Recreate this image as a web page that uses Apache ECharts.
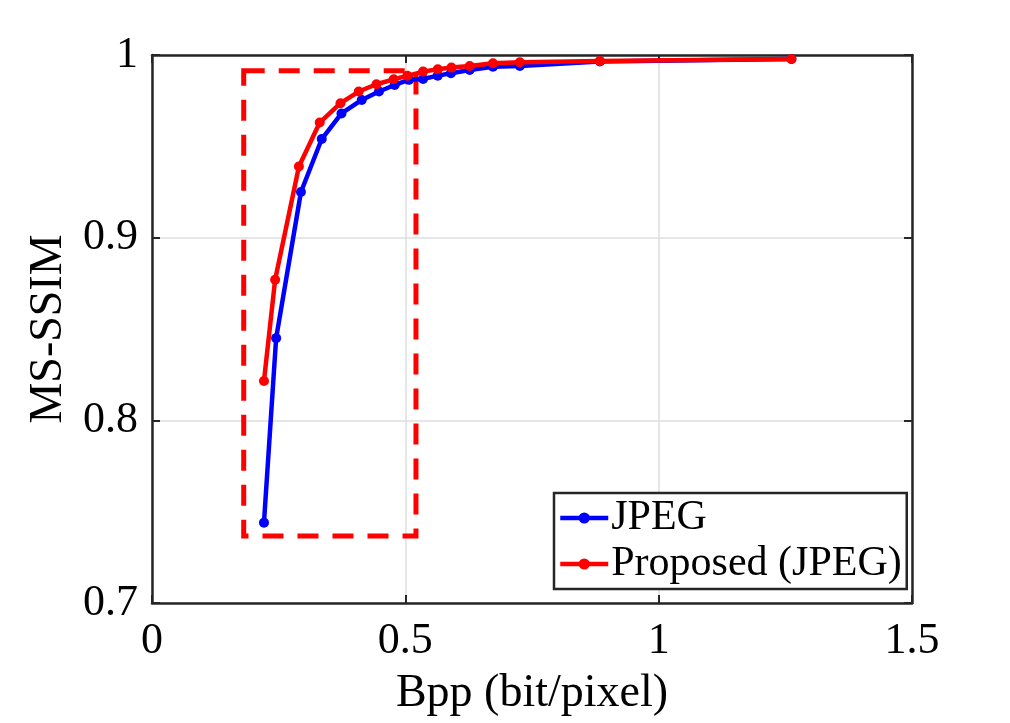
<!DOCTYPE html>
<html>
<head>
<meta charset="utf-8">
<script src="https://cdn.jsdelivr.net/npm/echarts@6/dist/echarts.min.js"></script>
<style>html,body{margin:0;padding:0;background:#fff}#c{width:1010px;height:723px}</style>
</head>
<body>
<div id="c"></div>
<script>
// Data
const jpegBpp   = [0.221, 0.245, 0.294, 0.335, 0.374, 0.414, 0.448, 0.479, 0.507, 0.535, 0.564, 0.590, 0.627, 0.673, 0.726, 0.884, 1.262];
const jpegSsim  = [0.744, 0.845, 0.925, 0.954, 0.968, 0.9754, 0.980, 0.9836, 0.9864, 0.9869, 0.9887, 0.9900, 0.9918, 0.9936, 0.9940, 0.9965, 0.9978];
const propBpp   = [0.221, 0.243, 0.290, 0.331, 0.372, 0.408, 0.443, 0.477, 0.504, 0.535, 0.564, 0.591, 0.627, 0.673, 0.726, 0.884, 1.262];
const propSsim  = [0.8215, 0.877, 0.939, 0.963, 0.9736, 0.980, 0.984, 0.9867, 0.9886, 0.9909, 0.9922, 0.9931, 0.9940, 0.9955, 0.9960, 0.9967, 0.9978];
const seriesNames = ['JPEG', 'Proposed (JPEG)'];
const xTicks = [0, 0.5, 1, 1.5];
const yTicks = [0.7, 0.8, 0.9, 1];
// Highlight box (data coordinates): [xMin, xMax, yMin, yMax]
const zoomBox = [0.181, 0.521, 0.7367, 0.9914];

const FONT = 'Liberation Serif';
const AX = '#262626';
const pairs = (xs, ys) => xs.map((x, i) => [x, ys[i]]);

const baseX = {
  type: 'value', min: xTicks[0], max: xTicks[xTicks.length - 1], interval: xTicks[1] - xTicks[0],
  axisLine: { show: true, onZero: false, lineStyle: { color: AX, width: 2.5 } },
  axisTick: { show: true, inside: true, length: 8, lineStyle: { color: AX, width: 2 } },
  splitLine: { show: false }
};
const baseY = {
  type: 'value', min: yTicks[0], max: yTicks[yTicks.length - 1], interval: 0.1,
  axisLine: { show: true, onZero: false, lineStyle: { color: AX, width: 2.5 } },
  axisTick: { show: true, inside: true, length: 8, lineStyle: { color: AX, width: 2 } },
  splitLine: { show: false }
};

const chart = echarts.init(document.getElementById('c'), null, { renderer: 'canvas' });
chart.setOption({
  animation: false,
  backgroundColor: '#fff',
  grid: { left: 152, right: 98, top: 55, bottom: 120, containLabel: false },
  legend: {
    orient: 'vertical', left: 554, top: 493,
    data: seriesNames,
    itemWidth: 48, itemHeight: 14, itemGap: 4,
    padding: [4, 5, 4, 4],
    borderColor: AX, borderWidth: 2.5, backgroundColor: '#fff',
    lineStyle: { width: 4.5 },
    textStyle: { fontFamily: FONT, fontSize: 42, color: '#000', padding: [0, 0, 0, -2] }
  },
  xAxis: [
    Object.assign({}, baseX, {
      position: 'bottom',
      name: 'Bpp (bit/pixel)', nameLocation: 'middle', nameGap: 68,
      nameTextStyle: { fontFamily: FONT, fontSize: 46, color: '#000' },
      axisLabel: { fontFamily: FONT, fontSize: 44, color: '#000', margin: 16 },
      splitLine: { show: true, lineStyle: { color: '#dedede', width: 1.5 } }
    }),
    Object.assign({}, baseX, { position: 'top', axisLabel: { show: false } })
  ],
  yAxis: [
    Object.assign({}, baseY, {
      position: 'left',
      name: 'MS-SSIM', nameLocation: 'middle', nameGap: 78, nameRotate: 90,
      nameTextStyle: { fontFamily: FONT, fontSize: 46, color: '#000' },
      axisLabel: { fontFamily: FONT, fontSize: 44, color: '#000', margin: 14,
                   formatter: v => String(Math.round(v * 10) / 10) },
      splitLine: { show: true, lineStyle: { color: '#dedede', width: 1.5 } }
    }),
    Object.assign({}, baseY, { position: 'right', axisLabel: { show: false } })
  ],
  series: [
    {
      name: seriesNames[0], type: 'line', data: pairs(jpegBpp, jpegSsim),
      symbol: 'circle', symbolSize: 10, showSymbol: true,
      lineStyle: { color: '#0000ff', width: 4.5 }, itemStyle: { color: '#0000ff' },
      z: 3
    },
    {
      name: seriesNames[1], type: 'line', data: pairs(propBpp, propSsim),
      symbol: 'circle', symbolSize: 10, showSymbol: true,
      lineStyle: { color: '#ff0000', width: 4.5 }, itemStyle: { color: '#ff0000' },
      z: 4,
      markArea: {
        silent: true,
        itemStyle: { color: 'rgba(0,0,0,0)', borderColor: '#ff0000', borderWidth: 5, borderType: [21, 14] },
        data: [[{ xAxis: zoomBox[0], yAxis: zoomBox[3] }, { xAxis: zoomBox[1], yAxis: zoomBox[2] }]]
      }
    }
  ]
});
</script>
</body>
</html>
